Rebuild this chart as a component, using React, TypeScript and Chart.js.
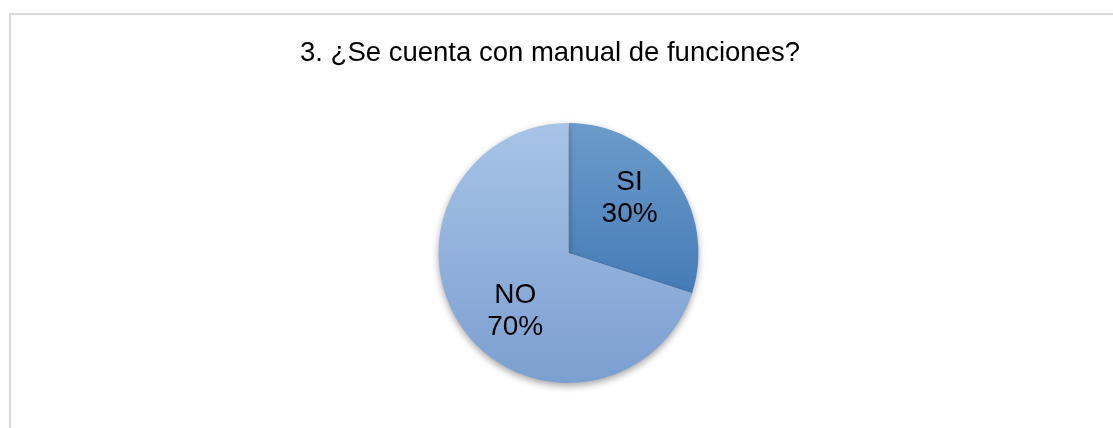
import React, { useEffect, useRef } from "react";
import { Chart, registerables } from "chart.js";

Chart.register(...registerables);

const titleText = "3. ¿Se cuenta con manual de funciones?";
const categories = ["SI", "NO"];
const values = [30, 70];
const percentLabels = ["30%", "70%"];
// label block centres as fractions of the pie radius
const labelOffsetX = [0.47, -0.41];
const labelOffsetY = [-0.42, 0.445];
const topColors = ["#6C9BCB", "#A7C4E7"];
const bottomColors = ["#2F6CAC", "#7C9FD1"];

export default function App() {
  const ref = useRef<HTMLCanvasElement | null>(null);

  useEffect(() => {
    document.body.style.margin = "0";
    const canvas = ref.current;
    if (!canvas) return;

    const shadowPlugin = {
      id: "pieShadow",
      beforeDatasetsDraw(chart: any) {
        const ctx = chart.ctx;
        ctx.save();
        ctx.shadowColor = "rgba(0,0,0,0.35)";
        ctx.shadowBlur = 7;
        ctx.shadowOffsetX = 0;
        ctx.shadowOffsetY = 3;
      },
      afterDatasetsDraw(chart: any) {
        chart.ctx.restore();
      },
    };

    const labelPlugin = {
      id: "textLayer",
      afterDraw(chart: any) {
        const ctx = chart.ctx;
        ctx.save();
        // frame
        ctx.strokeStyle = "#D9D9D9";
        ctx.lineWidth = 2;
        ctx.beginPath();
        ctx.moveTo(10, 428);
        ctx.lineTo(10, 14);
        ctx.lineTo(1113, 14);
        ctx.stroke();
        // title
        ctx.fillStyle = "#000";
        ctx.font = "27.5px 'Liberation Sans', Arial, sans-serif";
        ctx.textAlign = "center";
        ctx.textBaseline = "alphabetic";
        ctx.fillText(titleText, 550, 61);
        // data labels
        ctx.font = "28px 'Liberation Sans', Arial, sans-serif";
        const meta = chart.getDatasetMeta(0);
        meta.data.forEach((arc: any, i: number) => {
          const r = arc.outerRadius;
          const x = arc.x + r * labelOffsetX[i];
          const y = arc.y + r * labelOffsetY[i];
          ctx.textBaseline = "middle";
          ctx.fillText(categories[i], x, y - 16);
          ctx.fillText(percentLabels[i], x, y + 16);
        });
        ctx.restore();
      },
    };

    const chart = new Chart(canvas, {
      type: "pie",
      data: {
        labels: categories,
        datasets: [
          {
            data: values,
            borderWidth: 0,
            backgroundColor: (c: any) => {
              const area = c.chart.chartArea;
              if (!area) return topColors[c.dataIndex];
              const g = c.chart.ctx.createLinearGradient(0, area.top, 0, area.bottom);
              g.addColorStop(0, topColors[c.dataIndex]);
              g.addColorStop(1, bottomColors[c.dataIndex]);
              return g;
            },
          },
        ],
      },
      options: {
        responsive: false,
        animation: false,
        layout: { padding: { top: 123, bottom: 45, left: 438, right: 414 } },
        plugins: {
          legend: { display: false },
          tooltip: { enabled: false },
          title: { display: false },
        },
      },
      plugins: [shadowPlugin, labelPlugin],
    });

    return () => chart.destroy();
  }, []);

  return (
    <div style={{ position: "absolute", left: 0, top: 0, width: 1113, height: 428, background: "#fff" }}>
      <canvas ref={ref} width={1113} height={428} style={{ width: 1113, height: 428 }} />
    </div>
  );
}
